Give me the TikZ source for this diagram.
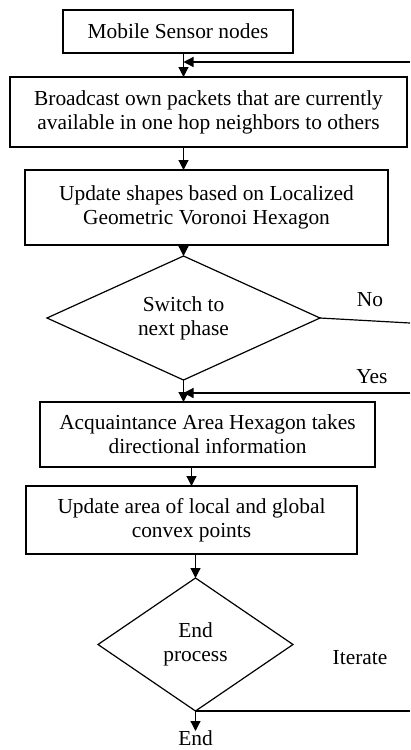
\documentclass[tikz,border=0pt]{standalone}
\usepackage{fontspec}
\setmainfont{Liberation Serif}
\usepackage{tikz}
\usetikzlibrary{shapes.geometric, arrows.meta, positioning}

\begin{document}
\begin{tikzpicture}[
			x=1pt, y=1pt,
			every node/.style={font=\fontsize{21.4}{24}\selectfont, align=center, outer sep=0pt},
			block/.style={rectangle, draw, line width=1.2pt, inner sep=0pt},
			decision/.style={diamond, draw, line width=1.2pt, inner sep=0pt, aspect=2},
			line/.style={-{Triangle[length=10pt, width=10pt]}, line width=1.2pt},
			plain/.style={line width=1.2pt}
			]
			\useasboundingbox (0,0) rectangle (410,-750);
			
			\node[block, minimum width=230pt, minimum height=43pt] (mobile) at (178,-31.5) {Mobile Sensor nodes};
			\node[block, minimum width=397pt, minimum height=70pt, below=24pt of mobile, xshift=30.5pt] (bcast) {Broadcast own packets that are currently\\available in one hop neighbors to others};
			\node[block, minimum width=363pt, minimum height=75pt, below=23pt of bcast, xshift=-2pt] (shapes) {Update shapes based on Localized\\Geometric Voronoi Hexagon};
			\node[decision, minimum width=273pt, minimum height=124pt, below=11pt of shapes, xshift=-23pt] (switch) {Switch to\\next phase};
			\node[block, minimum width=335pt, minimum height=65pt, below=22pt of switch, xshift=24pt] (acq) {Acquaintance Area Hexagon takes\\directional information};
			\node[block, minimum width=331pt, minimum height=68pt, below=19pt of acq, xshift=-16pt] (area) {Update area of local and global\\convex points};
			\node[decision, minimum width=195pt, minimum height=133pt, below=24pt of area, xshift=4pt] (endp) {End\\process};
			\node[inner sep=0pt, below=20pt of endp] (end) {End};
			
			% labels of the branches
			\node (no) at (370,-300) {No};
			\node (yes) at (372,-377) {Yes};
			\node (iterate) at (360,-658) {Iterate};
			
			% loose ends at the right border
			\coordinate (back1) at (410,-62);
			\coordinate (noend) at (410,-323);
			\coordinate (back2) at (410,-393);
			\coordinate (iterend) at (410,-713);
			
			\draw[line] (mobile.south -| switch.north) -- (bcast.north -| switch.north);
			\draw[line] (bcast.south -| switch.north) -- (shapes.north -| switch.north);
			\draw[line] (shapes.south -| switch.north) -- (switch.north);
			\draw[line] (switch.south) -- (acq.north -| switch.south);
			\draw[line] (acq.south -| area.north) -- (area.north);
			\draw[line] (area.south -| endp.north) -- (endp.north);
			\draw[line] (endp.south) -- (end.north);
			
			\draw[line] (back1) -- (back1 -| switch.north);
			\draw[plain] (switch.east) -- (noend);
			\draw[line] (back2) -- (back2 -| switch.south);
			\draw[plain] (endp.south) -- (endp.south -| iterend);
		\end{tikzpicture}
\end{document}
